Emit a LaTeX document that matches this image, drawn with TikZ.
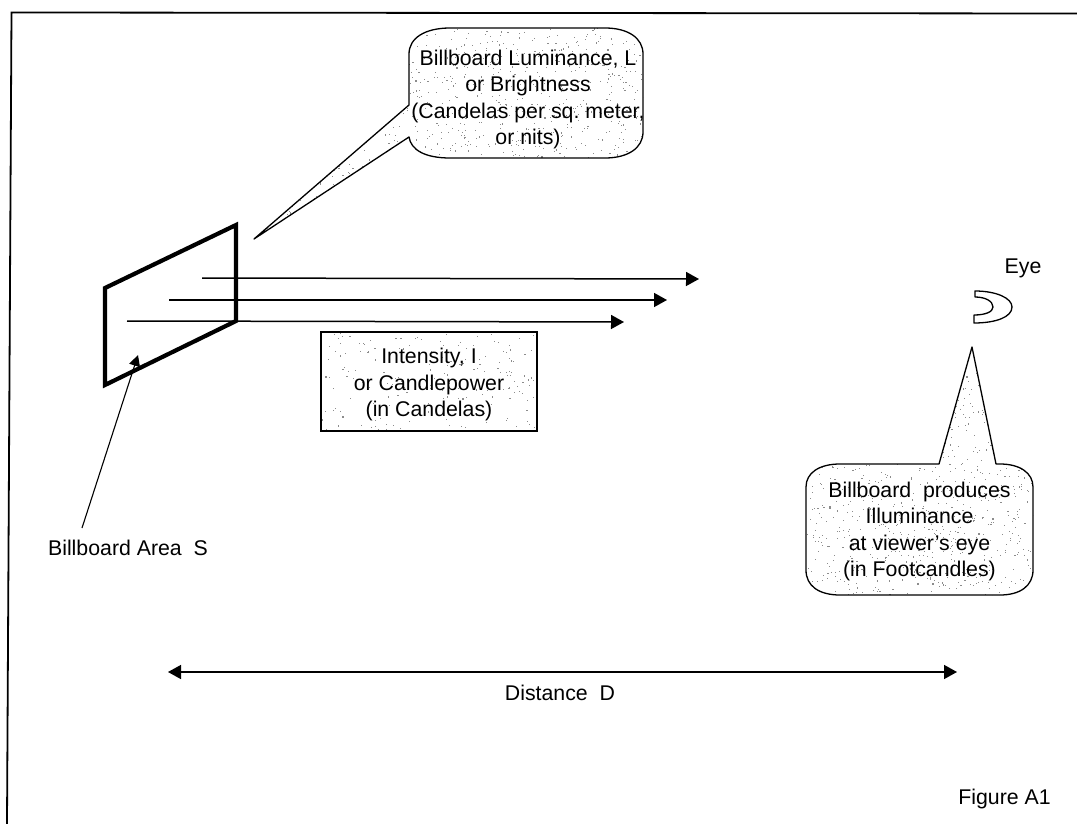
\documentclass[tikz,border=0pt]{standalone}
\usepackage{fontspec}
\setmainfont{Liberation Sans}
\usetikzlibrary{arrows.meta}
\tikzset{
  x=1pt,y=-1pt,
  frameline/.style={line width=1.8pt,black},
  board/.style={line width=4.2pt,black,line join=miter},
  ray/.style={line width=1.5pt,black,-{Triangle[length=13pt,width=14pt]}},
  twoway/.style={line width=1.5pt,black,{Triangle[length=13pt,width=14pt]}-{Triangle[length=13pt,width=14pt]}},
  leader/.style={line width=1.1pt,black,-{Triangle[length=11pt,width=11pt]}},
  outline/.style={line width=1.3pt,black,line join=round},
  speck/.style={fill=black!45},
  label/.style={inner sep=0pt,align=center,font=\fontsize{21.3}{26.4}\selectfont,text=black},
}
% #1 x, #2 y, #3 width, #4 height, #5 number of specks
\newcommand{\specks}[5]{%
  \foreach \n in {1,...,#5}{%
    \pgfmathsetmacro{\sx}{#1+rnd*#3}%
    \pgfmathsetmacro{\sy}{#2+rnd*#4}%
    \fill[speck] (\sx,\sy) rectangle +(1.1,1.1);
  }%
}
\def\lumpath{(409,105) -- (254,239) -- (409,137)
  .. controls (411,150) and (425,158) .. (450,158) -- (605,158)
  .. controls (628,158) and (643,148) .. (643,132) -- (643,54)
  .. controls (643,38) and (628,28) .. (605,28) -- (450,28)
  .. controls (425,28) and (409,38) .. (409,54) -- cycle}
\def\illpath{(939,464) -- (972,347) -- (996,464) -- (1000,464)
  .. controls (1020,464) and (1033,473) .. (1033,487) -- (1033,570)
  .. controls (1033,586) and (1020,595) .. (1000,595) -- (840,595)
  .. controls (819,595) and (806,586) .. (806,570) -- (806,487)
  .. controls (806,473) and (819,464) .. (840,464) -- cycle}
\begin{document}
\begin{tikzpicture}
\useasboundingbox (0,0) rectangle (1077,824);
\pgfmathsetseed{4217}
% frame
\coordinate (ftl) at (11.5,12.5);
\coordinate (ftr) at (1077,13.5);
\coordinate (fbl) at (7,824);
\draw[frameline] (fbl) -- (ftl) -- (ftr);
% billboard
\coordinate (b1) at (105,288);
\coordinate (b2) at (236,225);
\coordinate (b3) at (236,321);
\coordinate (b4) at (105,385);
\draw[board] (b1) -- (b2) -- (b3) -- (b4) -- cycle;
% rays
\coordinate (r1s) at (202,278);\coordinate (r1e) at (699,279);
\coordinate (r2s) at (169,300);\coordinate (r2e) at (667,300);
\coordinate (r3s) at (127,321);\coordinate (r3e) at (624,322);
\draw[ray] (r1s) -- (r1e);
\draw[ray] (r2s) -- (r2e);
\draw[ray] (r3s) -- (r3e);
% luminance callout
\begin{scope}
  \clip \lumpath;
  \specks{409}{28}{234}{130}{520}
  \specks{254}{105}{155}{134}{340}
\end{scope}
\draw[outline] \lumpath;
\node[label] (lum) at (528,99.5) {Billboard Luminance, L\\or Brightness\\(Candelas per sq.\ meter,\\or nits)};
% intensity box
\begin{scope}
  \clip (321,332) rectangle (537,431);
  \specks{321}{332}{216}{99}{190}
\end{scope}
\node[draw=black,line width=1.3pt,minimum width=216pt,minimum height=99pt,inner sep=0pt] (intbox) at (429,381.5) {};
\node[label] (int) at (429,384.5) {Intensity, I\\or Candlepower\\(in Candelas)};
% eye
\draw[outline] (975,291) .. controls (996,291) and (1012,298) .. (1012,307)
  .. controls (1012,317) and (996,323) .. (974,323) -- (974,315)
  .. controls (985,315) and (993,312) .. (993,307)
  .. controls (993,301) and (985,297) .. (975,297) -- cycle;
\node[label] (eye) at (1023,268) {Eye};
% illuminance callout
\begin{scope}
  \clip \illpath;
  \specks{806}{464}{227}{131}{520}
  \specks{939}{347}{57}{117}{120}
\end{scope}
\draw[outline] \illpath;
\node[label] (ill) at (919.5,531.5) {Billboard\ \ produces\\Illuminance\\at viewer's eye\\(in Footcandles)};
% billboard area
\node[label] (area) at (128,548) {Billboard Area\ \ S};
\coordinate (areatip) at (138,355);
\coordinate (areafoot) at (82,528);
\draw[leader] (areafoot) -- (areatip);
% distance
\coordinate (dl) at (168,672);
\coordinate (dr) at (957,672);
\draw[twoway] (dl) -- (dr);
\node[label] (dist) at (560,693) {Distance\ \ D};
\node[label] (fig) at (1004.5,799) {Figure A1};
\end{tikzpicture}
\end{document}
